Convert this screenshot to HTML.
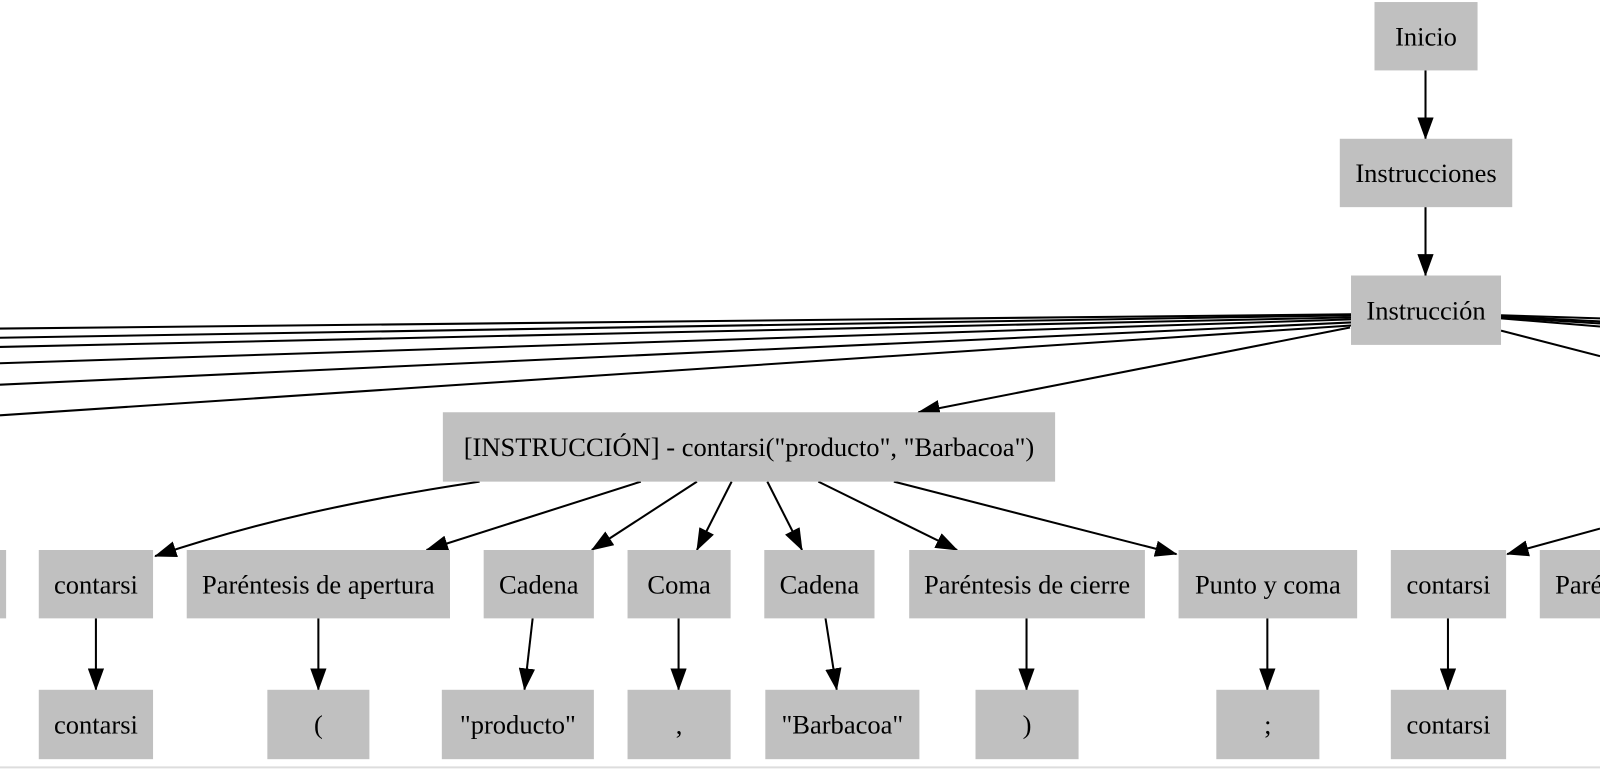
<!DOCTYPE html>
<html><head><meta charset="utf-8"><style>
html,body{margin:0;padding:0;background:#fff;width:1600px;height:770px;overflow:hidden}
svg{display:block}
text{font-family:"Liberation Serif",serif;font-size:26px;fill:#000}
</style></head><body>
<svg id="g" width="1600" height="770" viewBox="0 0 1568 754.6" preserveAspectRatio="none">
<defs>
<marker id="ah2" markerWidth="22" markerHeight="16" refX="21" refY="8" orient="auto" markerUnits="userSpaceOnUse" viewBox="0 0 22 16"><path d="M0,0 L22,8 L0,16 z" fill="#000"/></marker></defs>
<line x1="0" y1="752" x2="1568" y2="752" stroke="#ddd" stroke-width="2"/>
</svg>
<script>
const svg=document.getElementById('g');
const NS='http://www.w3.org/2000/svg';
const nodes=[
['inicio',1347,2,1448,69,'Inicio'],
['instrucciones',1313,136,1482,203,'Instrucciones'],
['instruccion',1324,270,1471,338,'Instrucción'],
['instr-contarsi',434,404,1034,472,'[INSTRUCCIÓN] - contarsi("producto", "Barbacoa")'],
['partial-left',-100,539,6,606,''],
['contarsi',38,539,150,606,'contarsi'],
['paren-open',183,539,441,606,'Paréntesis de apertura'],
['cadena-1',474,539,582,606,'Cadena'],
['coma',615,539,716,606,'Coma'],
['cadena-2',749,539,857,606,'Cadena'],
['paren-close',891,539,1122,606,'Paréntesis de cierre'],
['punto-y-coma',1155,539,1330,606,'Punto y coma'],
['contarsi-2',1363,539,1476,606,'contarsi'],
['paren-open-2',1509,539,1700,606,'Paré'],
['leaf-contarsi',38,676,150,744,'contarsi'],
['leaf-paren-open',262,676,362,744,'('],
['leaf-producto',433,676,582,744,'"producto"'],
['leaf-comma',615,676,716,744,','],
['leaf-barbacoa',750,676,901,744,'"Barbacoa"'],
['leaf-paren-close',956,676,1057,744,')'],
['leaf-semicolon',1192,676,1293,744,';'],
['leaf-contarsi-2',1363,676,1476,744,'contarsi']
];
const edges=[
['M0,322 L1324,308',0],['M0,331 L1324,309',0],['M0,340 L1324,311',0],['M0,356 L1324,313',0],['M0,377 L1324,316',0],['M0,407 L1324,319',0],
['M1471,309 L1568,312',0],['M1471,310 L1568,315',0],['M1471,311 L1568,317',0],['M1471,312 L1568,320',0],['M1471,324 L1568,349',0],
['M1397,69 L1397,136',1],['M1397,203 L1397,270',1],
['M1323,321 L900,404',1],
['M470,472 C350,490 250,512 152,545',1],
['M628,472 L418,539',1],['M683,472 L580,539',1],['M717,472 L683,539',1],['M752,472 L786,539',1],
['M802,472 L938,539',1],['M876,472 L1153,543',1],
['M1568,518 L1477,543',1],
['M94,606 L94,676',1],['M312,606 L312,676',1],['M522,606 L514,676',1],['M665,606 L665,676',1],['M809,606 L820,676',1],['M1006,606 L1006,676',1],['M1242,606 L1242,676',1],['M1419,606 L1419,676',1]
];
edges.forEach(e=>{
 const p=document.createElementNS(NS,'path');
 p.setAttribute('d',e[0]);p.setAttribute('fill','none');p.setAttribute('stroke','#000');p.setAttribute('stroke-width','2');
 if(e[1])p.setAttribute('marker-end','url(#ah2)');
 
 
 svg.appendChild(p);
});
nodes.forEach(n=>{
 const g=document.createElementNS(NS,'g');
 
 
 const r=document.createElementNS(NS,'rect');
 r.setAttribute('x',n[1]);r.setAttribute('y',n[2]);r.setAttribute('width',n[3]-n[1]);r.setAttribute('height',n[4]-n[2]);r.setAttribute('fill','#c0c0c0');
 g.appendChild(r);
 if(n[5]){const t=document.createElementNS(NS,'text');
 const cx=n[0]==='paren-open-2'?1524:(n[1]+n[3])/2;
 t.setAttribute('x',cx);t.setAttribute('y',(n[2]+n[4])/2+9);
 t.setAttribute('text-anchor',n[0]==='paren-open-2'?'start':'middle');
 t.textContent=n[5];g.appendChild(t);}
 svg.appendChild(g);
});
</script>
</body></html>
